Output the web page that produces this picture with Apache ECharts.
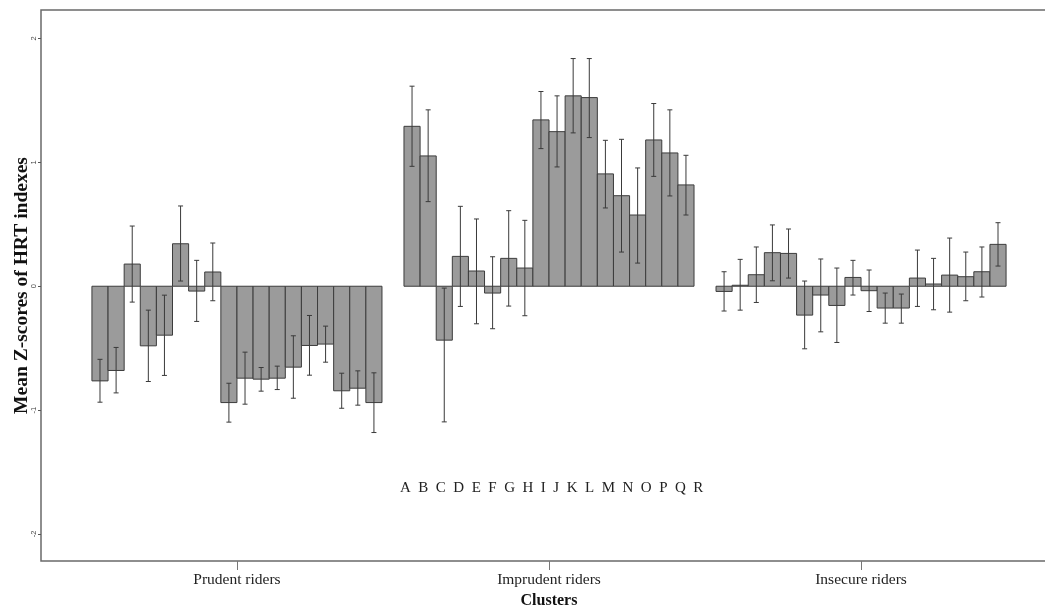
<!DOCTYPE html>
<html>
<head>
<meta charset="utf-8">
<script src="https://cdn.jsdelivr.net/npm/echarts@6/dist/echarts.min.js"></script>
<style>html,body{margin:0;padding:0;background:#fff;}#c{width:1045px;height:610px;}</style>
</head>
<body>
<div id="c"></div>
<script>
const clusters = ['Prudent riders', 'Imprudent riders', 'Insecure riders'];
const letters = ['A','B','C','D','E','F','G','H','I','J','K','L','M','N','O','P','Q','R'];
const yTicks = [-2, -1, 0, 1, 2];

const prudentMean = [-0.764,-0.68,0.179,-0.481,-0.395,0.343,-0.039,0.115,-0.939,-0.742,-0.75,-0.742,-0.653,-0.478,-0.467,-0.844,-0.823,-0.939];
const prudentHigh = [-0.59,-0.494,0.486,-0.193,-0.072,0.648,0.209,0.349,-0.783,-0.532,-0.656,-0.645,-0.4,-0.236,-0.322,-0.702,-0.683,-0.699];
const prudentLow  = [-0.936,-0.861,-0.128,-0.769,-0.72,0.042,-0.284,-0.117,-1.097,-0.952,-0.847,-0.834,-0.904,-0.718,-0.613,-0.985,-0.96,-1.181];

const imprudentMean = [1.291,1.052,-0.435,0.241,0.123,-0.055,0.225,0.147,1.343,1.248,1.537,1.523,0.907,0.731,0.575,1.181,1.076,0.818];
const imprudentHigh = [1.615,1.424,-0.015,0.645,0.543,0.238,0.61,0.532,1.572,1.537,1.838,1.838,1.178,1.186,0.955,1.475,1.424,1.057];
const imprudentLow  = [0.968,0.683,-1.095,-0.163,-0.303,-0.343,-0.16,-0.238,1.111,0.963,1.238,1.2,0.632,0.276,0.187,0.887,0.729,0.575];

const insecureMean = [-0.042,0.008,0.093,0.271,0.265,-0.233,-0.071,-0.155,0.071,-0.036,-0.176,-0.176,0.066,0.018,0.09,0.077,0.117,0.338];
const insecureHigh = [0.117,0.217,0.317,0.495,0.462,0.042,0.22,0.147,0.209,0.131,-0.055,-0.063,0.292,0.225,0.389,0.276,0.317,0.513];
const insecureLow  = [-0.2,-0.193,-0.131,0.044,0.066,-0.505,-0.368,-0.454,-0.071,-0.204,-0.298,-0.298,-0.163,-0.19,-0.209,-0.117,-0.087,0.163];

const groups = [
  [prudentMean, prudentLow, prudentHigh],
  [imprudentMean, imprudentLow, imprudentHigh],
  [insecureMean, insecureLow, insecureHigh]
];

const data = [];
groups.forEach((g, ci) => {
  g[0].forEach((m, bi) => data.push([ci, bi, m, g[1][bi], g[2][bi]]));
});

const STEP = 0.05164; // bar slot width in cluster-axis units
const NB = letters.length;

function renderItem(params, api) {
  const ci = api.value(0), bi = api.value(1);
  const m = api.value(2), lo = api.value(3), hi = api.value(4);
  const xl = ci + (bi - NB / 2) * STEP;
  const xr = xl + STEP;
  const p0 = api.coord([xl, 0]);
  const p1 = api.coord([xr, m]);
  const xc = (p0[0] + p1[0]) / 2;
  const pHi = api.coord([xl, hi]);
  const pLo = api.coord([xl, lo]);
  const cap = 2.5;
  const lineStyle = { stroke: '#3a3a3a', lineWidth: 1 };
  return {
    type: 'group',
    children: [
      { type: 'rect', shape: { x: p0[0], y: Math.min(p0[1], p1[1]), width: p1[0] - p0[0], height: Math.abs(p1[1] - p0[1]) },
        style: { fill: '#9b9b9b', stroke: '#3c3c3c', lineWidth: 1 } },
      { type: 'line', shape: { x1: xc, y1: pHi[1], x2: xc, y2: pLo[1] }, style: lineStyle },
      { type: 'line', shape: { x1: xc - cap, y1: pHi[1], x2: xc + cap, y2: pHi[1] }, style: lineStyle },
      { type: 'line', shape: { x1: xc - cap, y1: pLo[1], x2: xc + cap, y2: pLo[1] }, style: lineStyle }
    ]
  };
}

const chart = echarts.init(document.getElementById('c'), null, { renderer: 'canvas' });
chart.setOption({
  animation: false,
  backgroundColor: '#fff',
  grid: { left: 41, top: 10, width: 1016, height: 551, outerBoundsMode: 'none', containLabel: false,
    show: true, borderColor: '#6a6a6a', borderWidth: 1.5, backgroundColor: 'transparent' },
  xAxis: {
    type: 'value', min: -0.628, max: 2.628,
    name: 'Clusters', nameLocation: 'middle', nameGap: 32, nameMoveOverlap: false,
    nameTextStyle: { fontFamily: 'Liberation Serif', fontWeight: 'bold', fontSize: 16, color: '#111' },
    axisLine: { show: false, onZero: false },
    splitLine: { show: false },
    axisTick: { show: true, length: 9, inside: false, customValues: [0, 1, 2], lineStyle: { color: '#777' } },
    axisLabel: { customValues: [0, 1, 2], margin: 11, fontFamily: 'Liberation Serif', fontSize: 15.5, color: '#222',
      formatter: v => clusters[Math.round(v)] }
  },
  yAxis: {
    type: 'value', min: -2.218, max: 2.23,
    name: 'Mean Z-scores of HRT indexes', nameLocation: 'middle', nameGap: 9, nameMoveOverlap: false,
    nameTextStyle: { fontFamily: 'Liberation Serif', fontWeight: 'bold', fontSize: 19.5, color: '#111' },
    axisLine: { show: false, onZero: false },
    splitLine: { show: false },
    axisTick: { show: true, length: 3, customValues: yTicks, lineStyle: { color: '#555' } },
    axisLabel: { customValues: yTicks, margin: 3, rotate: 90, fontSize: 7.5, color: '#444', fontFamily: 'Liberation Sans' }
  },
  graphic: [{
    type: 'text', left: 400, top: 481,
    style: { text: letters.join('  '), font: '15px "Liberation Serif"', fill: '#222' }
  }],
  series: [{
    type: 'custom', renderItem: renderItem, data: data,
    encode: { x: 0, y: [2, 3, 4] }, clip: false
  }]
});
</script>
</body>
</html>
